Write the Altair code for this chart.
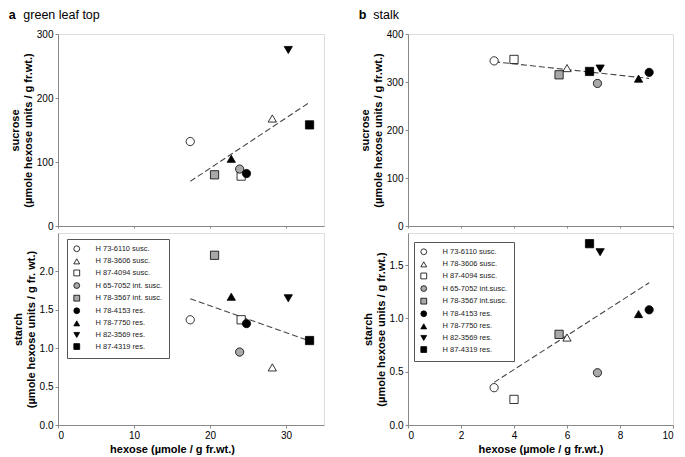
import altair as alt
import pandas as pd

# ---- data ----
varieties_a = ["H 73-6110 susc.", "H 78-3606 susc.", "H 87-4094 susc.",
               "H 65-7052 int. susc.", "H 78-3567 int. susc.", "H 78-4153 res.",
               "H 78-7750 res.", "H 82-3569 res.", "H 87-4319 res."]
varieties_b = ["H 73-6110 susc.", "H 78-3606 susc.", "H 87-4094 susc.",
               "H 65-7052 int.susc.", "H 78-3567 int.susc.", "H 78-4153 res.",
               "H 78-7750 res.", "H 82-3569 res.", "H 87-4319 res."]
shapes = ["circle", "triangle-up", "square", "circle", "square",
          "circle", "triangle-up", "triangle-down", "square"]
fills = ["white", "white", "white", "#a9a9a9", "#a9a9a9",
         "black", "black", "black", "black"]
strokes = ["black"] * 9

leaf_hexose = [17.4, 28.2, 24.1, 23.9, 20.6, 24.8, 22.8, 30.3, 33.1]
leaf_sucrose = [132, 168, 78, 89, 80, 82, 105, 275, 158]
leaf_starch = [1.37, 0.75, 1.37, 0.95, 2.21, 1.32, 1.67, 1.65, 1.10]

stalk_hexose = [3.25, 6.0, 4.0, 7.15, 5.7, 9.1, 8.7, 7.25, 6.85]
stalk_sucrose = [344, 329, 347, 297, 315, 320, 307, 328, 322]
stalk_starch = [0.35, 0.82, 0.24, 0.49, 0.85, 1.08, 1.04, 1.62, 1.70]

leaf = pd.DataFrame({"variety": varieties_a, "hexose": leaf_hexose,
                     "sucrose": leaf_sucrose, "starch": leaf_starch})
stalk = pd.DataFrame({"variety": varieties_b, "hexose": stalk_hexose,
                      "sucrose": stalk_sucrose, "starch": stalk_starch})

FONT = "Liberation Sans"
X_TITLE = "hexose (µmole / g fr.wt.)"


def panel(df, varieties, xdom, xvals, yfield, ydom, yvals, ytitle, yfmt,
          bottom, legend_xy=None, w=266, h=192, xtitle_x=None):
    if bottom:
        xaxis_kw = dict(values=xvals, title=X_TITLE, tickSize=3, labelPadding=2,
                        titlePadding=3, grid=False)
        if xtitle_x is not None:
            xaxis_kw["titleX"] = xtitle_x
        xaxis = alt.Axis(**xaxis_kw)
    else:
        xaxis = alt.Axis(values=xvals, labels=False, title=None, tickSize=2,
                         grid=False)
    x = alt.X("hexose:Q", scale=alt.Scale(domain=xdom, nice=False, zero=False),
              axis=xaxis)
    y = alt.Y(f"{yfield}:Q", scale=alt.Scale(domain=ydom, nice=False),
              axis=alt.Axis(values=yvals, title=ytitle, format=yfmt, tickSize=3,
                            labelPadding=2, titlePadding=3, grid=False))
    if legend_xy is not None:
        leg = alt.Legend(title=None, orient="none", legendX=legend_xy[0],
                         legendY=legend_xy[1], padding=6, strokeColor="#555",
                         fillColor="white", labelFontSize=7.5, labelColor="#222",
                         labelFont=FONT, symbolSize=34,
                         symbolStrokeWidth=0.8, labelOffset=15, rowPadding=2.6,
                         labelLimit=200)
    else:
        leg = None
    pts = alt.Chart(df).mark_point(filled=True, size=68, strokeWidth=0.8,
                                   opacity=1).encode(
        x=x, y=y,
        shape=alt.Shape("variety:N", scale=alt.Scale(domain=varieties, range=shapes),
                        legend=leg),
        fill=alt.Fill("variety:N", scale=alt.Scale(domain=varieties, range=fills),
                      legend=leg),
        stroke=alt.Stroke("variety:N", scale=alt.Scale(domain=varieties, range=strokes),
                          legend=leg),
    )
    reg = alt.Chart(df).transform_regression("hexose", yfield).mark_line(
        color="#444", strokeDash=[6, 3], strokeWidth=1.1).encode(
        x=alt.X("hexose:Q"), y=alt.Y(f"{yfield}:Q"))
    return alt.layer(reg, pts).properties(width=w, height=h)


suc_title = ["sucrose", "(µmole hexose units / g fr.wt.)"]

a_top = panel(leaf, varieties_a, [0, 35], [0, 10, 20, 30], "sucrose", [0, 300],
              [0, 50, 100, 150, 200, 250, 300], suc_title, "d", False).properties(
    title=alt.TitleParams("green leaf top", anchor="start", dx=14, fontWeight="normal",
                          fontSize=12.5, font=FONT, offset=8))
a_bot = panel(leaf, varieties_a, [0, 35], [0, 10, 20, 30], "starch", [0, 2.5],
              [0, 0.5, 1.0, 1.5, 2.0],
              ["starch", "(µmole hexose units / g fr. wt.)"], ".1f", True,
              legend_xy=(9, 6), xtitle_x=114)
b_top = panel(stalk, varieties_b, [0, 10], [0, 2, 4, 6, 8, 10], "sucrose", [0, 400],
              [0, 100, 200, 300, 400], suc_title, "d", False, w=265).properties(
    title=alt.TitleParams("stalk", anchor="start", dx=14, fontWeight="normal",
                          fontSize=12.5, font=FONT, offset=8))
b_bot = panel(stalk, varieties_b, [0, 10], [0, 2, 4, 6, 8, 10], "starch", [0, 1.8],
              [0, 0.5, 1.0, 1.5],
              ["starch", "(µmole hexose units / g fr.wt.)"], ".1f", True,
              legend_xy=(6, 9), w=265)

col_a = alt.vconcat(a_top, a_bot, spacing=0).resolve_scale(
    shape="independent", fill="independent", stroke="independent").properties(
    title=alt.TitleParams("a", anchor="start", fontWeight="bold", fontSize=12.5,
                          font=FONT, dy=13, offset=0))
col_b = alt.vconcat(b_top, b_bot, spacing=0).resolve_scale(
    shape="independent", fill="independent", stroke="independent").properties(
    title=alt.TitleParams("b", anchor="start", fontWeight="bold", fontSize=12.5,
                          font=FONT, dy=13, offset=0))

chart = alt.hconcat(col_a, col_b, spacing=33).resolve_scale(
    shape="independent", fill="independent", stroke="independent").properties(
    padding={"left": 0, "top": 0, "right": 0, "bottom": 0}
).configure_view(stroke="#888", strokeWidth=1).configure_axis(
    labelFont=FONT, titleFont=FONT, labelFontSize=11, titleFontSize=12,
    titleFontWeight="bold", labelColor="#222", titleColor="#111",
    domainColor="#333", tickColor="#333", grid=False, titleLineHeight=14
).configure(font=FONT)

chart.save("out.html", embed_options={"renderer": "svg", "actions": False})
